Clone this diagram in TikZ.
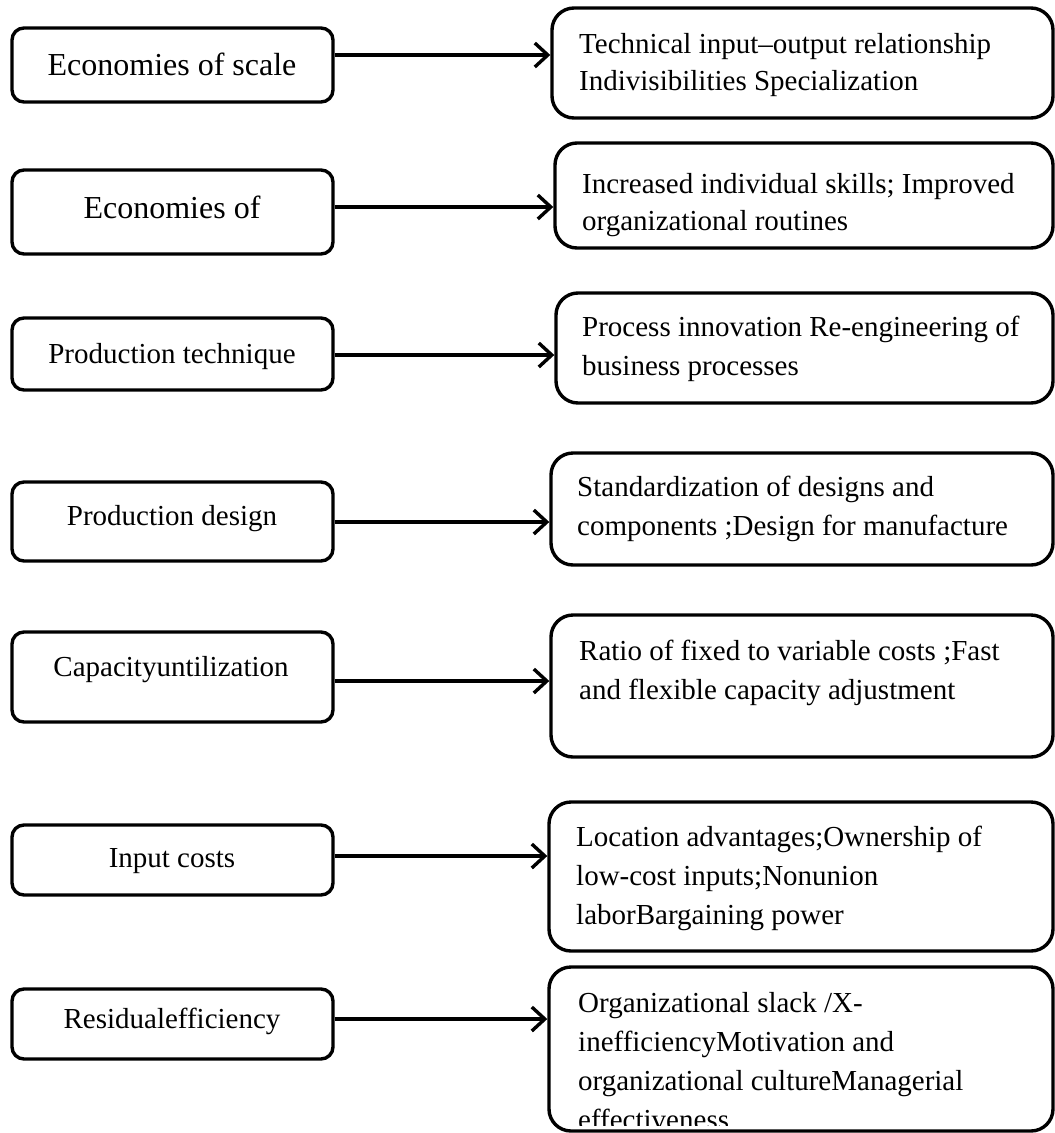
\documentclass[tikz,border=0pt]{standalone}
\usepackage{fontspec}
\setmainfont{Liberation Serif}
\usetikzlibrary{arrows.meta}
\begin{document}
\begin{tikzpicture}[x=1pt,y=-1pt,
  lbox/.style={draw, line width=3.4pt, rounded corners=12pt, inner sep=0pt},
  rbox/.style={draw, line width=3.4pt, rounded corners=22pt, inner sep=0pt},
  ltext/.style={anchor=base, inner sep=0pt, font=\fontsize{29}{35}\selectfont},
  lbig/.style={ltext, font=\fontsize{32}{38}\selectfont},
  rtext/.style={anchor=base west, inner sep=0pt},
  link/.style={line width=3.4pt, -{Straight Barb[length=13pt,width=24pt,line width=3.4pt]}}]
\useasboundingbox (0,0) rectangle (1055,1133);
\newcommand{\para}[2][39]{\parbox[t]{470pt}{\raggedright\fontsize{29}{#1}\selectfont #2}}

% left column: cost drivers
\node[lbox, minimum width=321pt, minimum height=74pt] (l1) at (172.5,65)   {};
\node[lbox, minimum width=321pt, minimum height=84pt] (l2) at (172.5,212)  {};
\node[lbox, minimum width=321pt, minimum height=72pt] (l3) at (172.5,354)  {};
\node[lbox, minimum width=321pt, minimum height=79pt] (l4) at (172.5,521.5){};
\node[lbox, minimum width=321pt, minimum height=90pt] (l5) at (172.5,677)  {};
\node[lbox, minimum width=321pt, minimum height=70pt] (l6) at (172.5,860)  {};
\node[lbox, minimum width=321pt, minimum height=70pt] (l7) at (172.5,1024) {};

\node[lbig]  (t1) at (172,75)   {Economies of scale};
\node[lbig]  (t2) at (172,218)  {Economies of};
\node[ltext] (t3) at (172,363)  {Production technique};
\node[ltext] (t4) at (172,525)  {Production design};
\node[ltext] (t5) at (171,676)  {Capacityuntilization};
\node[ltext] (t6) at (172,867)  {Input costs};
\node[ltext] (t7) at (172,1028) {Residualefficiency};

% right column: underlying factors
\node[rbox, minimum width=501pt, minimum height=110pt] (r1) at (802.5,63)   {};
\node[rbox, minimum width=498pt, minimum height=105pt] (r2) at (804,195.5)  {};
\node[rbox, minimum width=497pt, minimum height=110pt] (r3) at (804.5,348)  {};
\node[rbox, minimum width=502pt, minimum height=112pt] (r4) at (802,509)    {};
\node[rbox, minimum width=502pt, minimum height=142pt] (r5) at (802,686)    {};
\node[rbox, minimum width=504pt, minimum height=149pt] (r6) at (801,876.5)  {};
\node[rbox, minimum width=504pt, minimum height=164pt] (r7) at (801,1049)   {};

\node[rtext] (s1) at (579,53)  {\para[37]{Technical input--output relationship\\Indivisibilities Specialization}};
\node[rtext] (s2) at (582,193) {\para[37]{Increased individual skills; Improved\\organizational routines}};
\node[rtext] (s3) at (582,336) {\para{Process innovation Re-engineering of\\business processes}};
\node[rtext] (s4) at (577,496) {\para{Standardization of designs and\\components ;Design for manufacture}};
\node[rtext] (s5) at (579,660) {\para{Ratio of fixed to variable costs ;Fast\\and flexible capacity adjustment}};
\node[rtext] (s6) at (576,846) {\para{Location advantages;Ownership of\\low-cost inputs;Nonunion\\laborBargaining power}};
\begin{scope}
  \clip (549,967) rectangle (1053,1125);
  \node[rtext] (s7) at (578,1012) {\para{Organizational slack /X-\\inefficiencyMotivation and\\organizational cultureManagerial\\effectiveness}};
\end{scope}

% connectors
\coordinate (a1) at (0,55);
\coordinate (a2) at (0,207);
\coordinate (a3) at (0,355);
\coordinate (a4) at (0,522);
\coordinate (a5) at (0,681);
\coordinate (a6) at (0,856);
\coordinate (a7) at (0,1019);
\foreach \i in {1,...,7}
  \draw[link] (l\i.east |- a\i) -- (r\i.west |- a\i);
\end{tikzpicture}
\end{document}
